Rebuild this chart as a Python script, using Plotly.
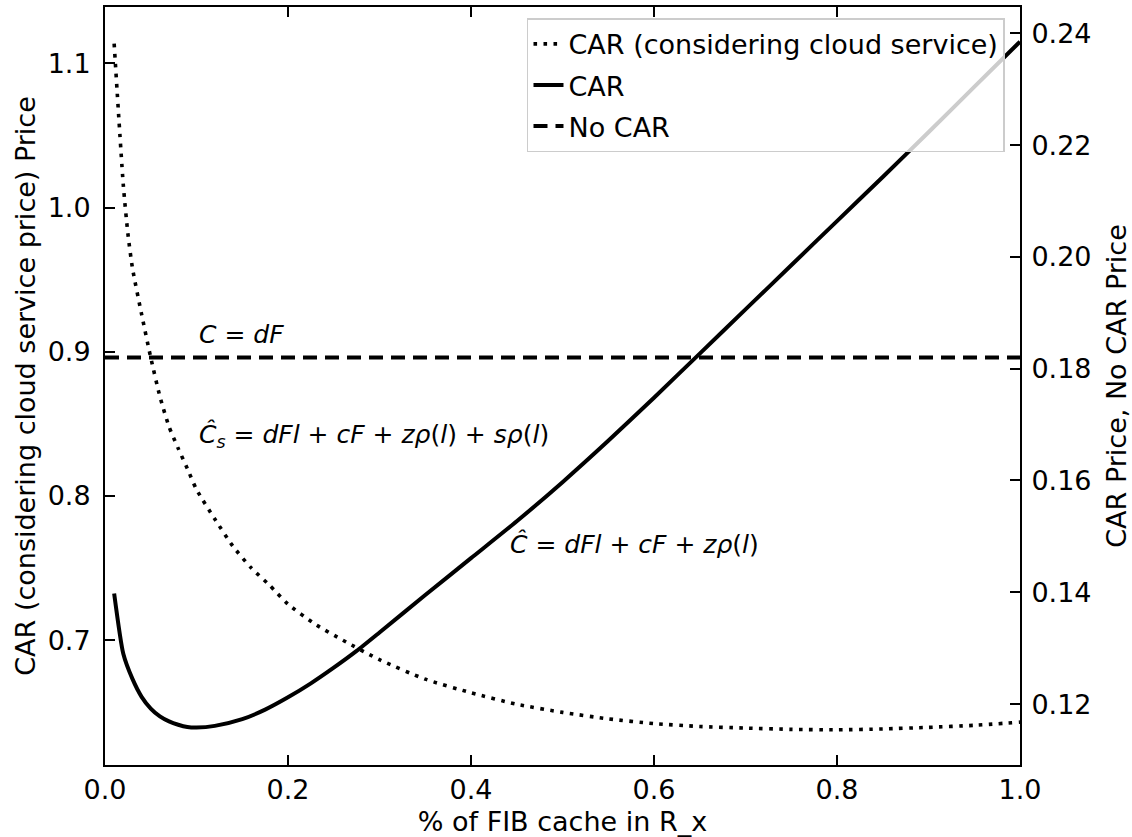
import plotly.graph_objects as go

# ---- data ----
x_cloud = [0.01, 0.02, 0.025, 0.03, 0.04, 0.05, 0.06, 0.07, 0.08, 0.09, 0.10, 0.12, 0.14,
           0.16, 0.18, 0.20, 0.23, 0.26, 0.30, 0.35, 0.40, 0.45, 0.50, 0.55, 0.60,
           0.65, 0.70, 0.75, 0.80, 0.85, 0.90, 0.95, 1.00]
car_cloud = [1.1136, 1.0156, 0.982, 0.958, 0.926, 0.896, 0.869, 0.848, 0.833, 0.819, 0.8045,
             0.784, 0.765, 0.750, 0.738, 0.725, 0.711, 0.700, 0.6865, 0.673, 0.6636,
             0.6556, 0.650, 0.6455, 0.6422, 0.6402, 0.6391, 0.6382, 0.6379, 0.6385,
             0.6396, 0.6410, 0.6432]

x_car = [0.01, 0.02, 0.03, 0.04, 0.05, 0.06, 0.07, 0.08, 0.09, 0.10, 0.12, 0.15, 0.175,
         0.20, 0.225, 0.25, 0.275, 0.30, 0.35, 0.40, 0.45, 0.50, 0.55, 0.60, 0.65, 0.70,
         0.75, 0.80, 0.85, 0.90, 0.95, 1.00]
car = [0.1398, 0.1290, 0.1245, 0.1213, 0.1192, 0.1178, 0.1169, 0.1163, 0.1159, 0.1158,
       0.1161, 0.1173, 0.1190, 0.1212, 0.1237, 0.1265, 0.1295, 0.1328, 0.1395, 0.1461,
       0.1527, 0.1597, 0.1671, 0.1748, 0.1827, 0.1906, 0.1985, 0.2064, 0.2143, 0.2223,
       0.2304, 0.2385]

x_nocar = [0.0, 1.0]
no_car = [0.182, 0.182]

x_ticks = [0.0, 0.2, 0.4, 0.6, 0.8, 1.0]
y_left_ticks = [0.7, 0.8, 0.9, 1.0, 1.1]
y_right_ticks = [0.12, 0.14, 0.16, 0.18, 0.20, 0.22, 0.24]

FONT = "DejaVu Sans"
FS = 27

fig = go.Figure()
fig.add_trace(go.Scatter(x=x_cloud, y=car_cloud, mode="lines",
                         name="CAR (considering cloud service)", legendgroup="a",
                         line=dict(color="black", width=3.6, dash="3.6px,6.4px",
                                   shape="spline", smoothing=0.6),
                         yaxis="y"))
fig.add_trace(go.Scatter(x=x_car, y=car, mode="lines", name="CAR", legendgroup="b",
                         line=dict(color="black", width=4, shape="spline", smoothing=0.6),
                         yaxis="y2"))
fig.add_trace(go.Scatter(x=x_nocar, y=no_car, mode="lines", name="No CAR", legendgroup="c",
                         line=dict(color="black", width=4, dash="14px,8px"),
                         yaxis="y2"))

ann_font = dict(family=FONT, size=25, color="black")
fig.add_annotation(x=0.1005, y=0.9118, xref="x", yref="y", xanchor="left", yanchor="middle",
                   text="<i>C</i> = <i>dF</i>", showarrow=False, font=ann_font)
fig.add_annotation(x=0.1005, y=0.8419, xref="x", yref="y", xanchor="left", yanchor="middle",
                   text="<i>Ĉ<sub>s</sub></i> = <i>dFl</i> + <i>cF</i> + <i>zρ</i>(<i>l</i>) + <i>sρ</i>(<i>l</i>)",
                   showarrow=False, font=ann_font)
fig.add_annotation(x=0.4404, y=0.7664, xref="x", yref="y", xanchor="left", yanchor="middle",
                   text="<i>Ĉ</i> = <i>dFl</i> + <i>cF</i> + <i>zρ</i>(<i>l</i>)",
                   showarrow=False, font=ann_font)

axis_common = dict(showgrid=False, zeroline=False, showline=True, linecolor="black",
                   linewidth=2, ticks="inside", ticklen=10, tickwidth=1.5, tickcolor="black",
                   tickfont=dict(family=FONT, size=FS, color="black"), automargin=False)

fig.update_layout(
    width=1132, height=837,
    margin=dict(l=105, r=112, t=7, b=72),
    paper_bgcolor="white", plot_bgcolor="white",
    font=dict(family=FONT, size=FS, color="black"),
    xaxis=dict(range=[0, 1], tickvals=x_ticks, tickformat=".1f", mirror="ticks",
               title=dict(text="% of FIB cache in R_x", standoff=8,
                          font=dict(family=FONT, size=FS)),
               ticklabelstandoff=0, **axis_common),
    yaxis=dict(range=[0.6135, 1.139], tickvals=y_left_ticks, tickformat=".1f",
               title=dict(text="CAR (considering cloud service price) Price", standoff=4,
                          font=dict(family=FONT, size=FS)),
               ticklabelstandoff=7, **axis_common),
    yaxis2=dict(range=[0.1091, 0.2447], tickvals=y_right_ticks, tickformat=".2f",
                overlaying="y", side="right",
                title=dict(text="CAR Price, No CAR Price", standoff=19,
                           font=dict(family=FONT, size=FS)),
                ticklabelstandoff=4, **axis_common),
    legend=dict(x=0.9836, y=0.985, xanchor="right", yanchor="top",
                bgcolor="rgba(255,255,255,0.8)", bordercolor="#cccccc", borderwidth=1.5,
                font=dict(family=FONT, size=FS, color="black"), tracegroupgap=3,
                traceorder="grouped"),
    showlegend=True,
)

fig.write_html("out.html", config={"displayModeBar": False},
               post_script="document.body.style.margin='0';document.body.style.padding='0';")
